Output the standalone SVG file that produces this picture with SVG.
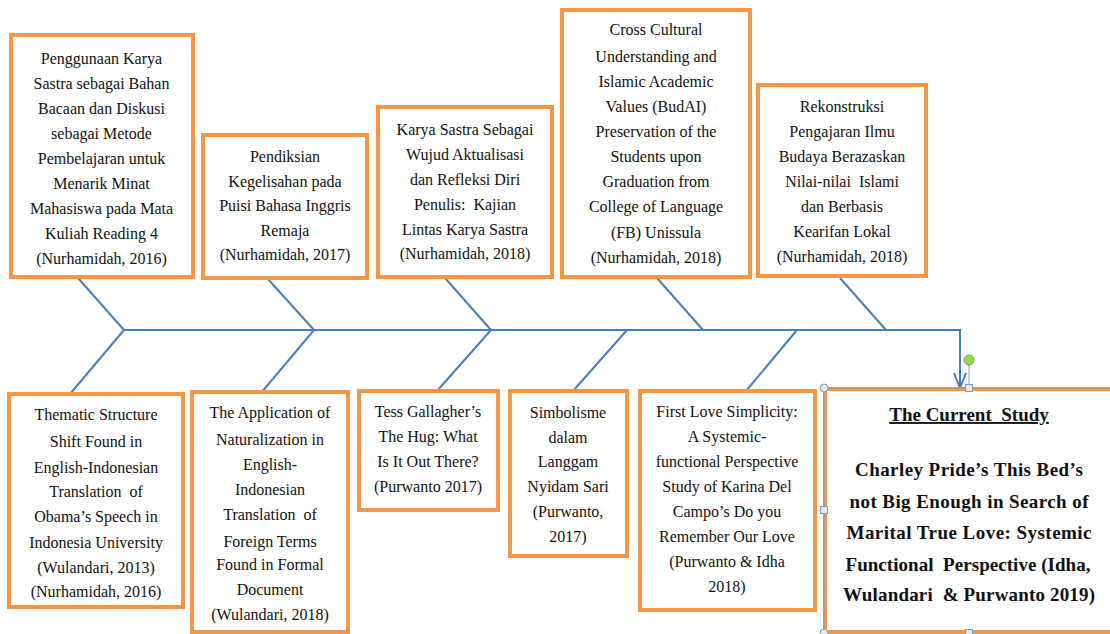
<svg xmlns="http://www.w3.org/2000/svg" width="1110" height="634" viewBox="0 0 1110 634">
<defs>
<style>
.box{fill:#fff;stroke:#F79646;stroke-width:4}
.bone{stroke:#4A7EBB;stroke-width:2;fill:none}
.t{font-family:"Liberation Serif","Times New Roman",serif;font-size:16px;fill:#111;text-anchor:middle}
.b{font-family:"Liberation Serif","Times New Roman",serif;font-size:19px;font-weight:bold;fill:#111;text-anchor:middle}
.h{fill:#dfeaf6;stroke:#8a9bb0;stroke-width:1}
</style>
</defs>
<rect width="1110" height="634" fill="#fff"/>
<g id="connectors">
<path class="bone" d="M124 330 H960 V387" stroke-width="2.5"/>
<path class="bone" d="M954 373 L960 388 L966 373"/>
<path class="bone" d="M78 278 L124 330 M267 278 L314 330 M445 278 L491 330 M657 278 L703 330 M840 278 L886 330"/>
<path class="bone" d="M124 330 L70 394 M314 330 L261 393 M491 330 L437 391 M627 330 L573 391 M797 330 L746 391"/>
</g>
<g id="top1">
<rect class="box" x="11" y="35" width="182" height="242"/>
<text class="t" x="101.5" y="64">Penggunaan Karya</text>
<text class="t" x="101.5" y="89">Sastra sebagai Bahan</text>
<text class="t" x="101.5" y="114">Bacaan dan Diskusi</text>
<text class="t" x="101.5" y="139">sebagai Metode</text>
<text class="t" x="101.5" y="164">Pembelajaran untuk</text>
<text class="t" x="101.5" y="189">Menarik Minat</text>
<text class="t" x="101.5" y="214">Mahasiswa pada Mata</text>
<text class="t" x="101.5" y="239">Kuliah Reading 4</text>
<text class="t" x="101.5" y="264">(Nurhamidah, 2016)</text>
</g>
<g id="top2">
<rect class="box" x="203" y="135" width="164" height="143"/>
<text class="t" x="285" y="162">Pendiksian</text>
<text class="t" x="285" y="187">Kegelisahan pada</text>
<text class="t" x="285" y="211">Puisi Bahasa Inggris</text>
<text class="t" x="285" y="236">Remaja</text>
<text class="t" x="285" y="260">(Nurhamidah, 2017)</text>
</g>
<g id="top3">
<rect class="box" x="378" y="107" width="174" height="170"/>
<text class="t" x="465" y="135">Karya Sastra Sebagai</text>
<text class="t" x="465" y="160">Wujud Aktualisasi</text>
<text class="t" x="465" y="185">dan Refleksi Diri</text>
<text class="t" x="465" y="210" xml:space="preserve">Penulis:  Kajian</text>
<text class="t" x="465" y="235">Lintas Karya Sastra</text>
<text class="t" x="465" y="259">(Nurhamidah, 2018)</text>
</g>
<g id="top4">
<rect class="box" x="562" y="10" width="188" height="267"/>
<text class="t" x="656" y="35">Cross Cultural</text>
<text class="t" x="656" y="62">Understanding and</text>
<text class="t" x="656" y="87">Islamic Academic</text>
<text class="t" x="656" y="112">Values (BudAI)</text>
<text class="t" x="656" y="137">Preservation of the</text>
<text class="t" x="656" y="162">Students upon</text>
<text class="t" x="656" y="187">Graduation from</text>
<text class="t" x="656" y="212">College of Language</text>
<text class="t" x="656" y="238">(FB) Unissula</text>
<text class="t" x="656" y="263">(Nurhamidah, 2018)</text>
</g>
<g id="top5">
<rect class="box" x="758" y="85" width="168" height="191"/>
<text class="t" x="842" y="112">Rekonstruksi</text>
<text class="t" x="842" y="137">Pengajaran Ilmu</text>
<text class="t" x="842" y="162">Budaya Berazaskan</text>
<text class="t" x="842" y="187" xml:space="preserve">Nilai-nilai  Islami</text>
<text class="t" x="842" y="212">dan Berbasis</text>
<text class="t" x="842" y="237">Kearifan Lokal</text>
<text class="t" x="842" y="262">(Nurhamidah, 2018)</text>
</g>
<g id="bottom1">
<rect class="box" x="9" y="394" width="174" height="213"/>
<text class="t" x="96" y="420">Thematic Structure</text>
<text class="t" x="96" y="447">Shift Found in</text>
<text class="t" x="96" y="473">English-Indonesian</text>
<text class="t" x="96" y="497" xml:space="preserve">Translation  of</text>
<text class="t" x="96" y="522">Obama’s Speech in</text>
<text class="t" x="96" y="548">Indonesia University</text>
<text class="t" x="96" y="573">(Wulandari, 2013)</text>
<text class="t" x="96" y="597">(Nurhamidah, 2016)</text>
</g>
<g id="bottom2">
<rect class="box" x="192" y="392" width="156" height="240"/>
<text class="t" x="270" y="418">The Application of</text>
<text class="t" x="270" y="445">Naturalization in</text>
<text class="t" x="270" y="470">English-</text>
<text class="t" x="270" y="495">Indonesian</text>
<text class="t" x="270" y="520" xml:space="preserve">Translation  of</text>
<text class="t" x="270" y="547">Foreign Terms</text>
<text class="t" x="270" y="570">Found in Formal</text>
<text class="t" x="270" y="595">Document</text>
<text class="t" x="270" y="620">(Wulandari, 2018)</text>
</g>
<g id="bottom3">
<rect class="box" x="359" y="391" width="139" height="119"/>
<text class="t" x="428" y="417">Tess Gallagher’s</text>
<text class="t" x="428" y="442">The Hug: What</text>
<text class="t" x="428" y="467">Is It Out There?</text>
<text class="t" x="428" y="492">(Purwanto 2017)</text>
</g>
<g id="bottom4">
<rect class="box" x="510" y="391" width="117" height="165"/>
<text class="t" x="568" y="418">Simbolisme</text>
<text class="t" x="568" y="443">dalam</text>
<text class="t" x="568" y="467">Langgam</text>
<text class="t" x="568" y="492">Nyidam Sari</text>
<text class="t" x="568" y="517">(Purwanto,</text>
<text class="t" x="568" y="542">2017)</text>
</g>
<g id="bottom5">
<rect class="box" x="640" y="391" width="175" height="219"/>
<text class="t" x="727" y="417">First Love Simplicity:</text>
<text class="t" x="727" y="442">A Systemic-</text>
<text class="t" x="727" y="467">functional Perspective</text>
<text class="t" x="727" y="492">Study of Karina Del</text>
<text class="t" x="727" y="517">Campo’s Do you</text>
<text class="t" x="727" y="542">Remember Our Love</text>
<text class="t" x="727" y="567">(Purwanto &amp; Idha</text>
<text class="t" x="727" y="592">2018)</text>
</g>
<g id="current">
<rect class="box" x="825" y="389" width="300" height="243" stroke-width="3"/>
<path d="M825 388 H1110 M824 389 V632" stroke="#8a9bb0" stroke-width="1" fill="none"/>
<text class="b" x="969" y="421" text-decoration="underline" xml:space="preserve">The Current  Study</text>
<text class="b" x="969" y="476" textLength="228" lengthAdjust="spacing">Charley Pride’s This Bed’s</text>
<text class="b" x="969" y="508" textLength="239" lengthAdjust="spacing">not Big Enough in Search of</text>
<text class="b" x="969" y="539" textLength="245" lengthAdjust="spacing">Marital True Love: Systemic</text>
<text class="b" x="968" y="571" textLength="245" lengthAdjust="spacing" xml:space="preserve">Functional  Perspective (Idha,</text>
<text class="b" x="969" y="601" textLength="252" lengthAdjust="spacing" xml:space="preserve">Wulandari  &amp; Purwanto 2019)</text>
<line x1="969" y1="365" x2="969" y2="385" stroke="#8a9bb0" stroke-width="1"/>
<circle cx="969" cy="360" r="5" fill="#8fe040" stroke="#7a9a7a" stroke-width="1"/>
<rect class="h" x="965.5" y="384.5" width="7" height="7"/>
<circle class="h" cx="824" cy="388" r="4"/>
<rect class="h" x="820.5" y="506.5" width="7" height="7"/>
<circle class="h" cx="824" cy="633" r="4"/>
<rect class="h" x="965.5" y="629.5" width="7" height="7"/>
</g>
</svg>
